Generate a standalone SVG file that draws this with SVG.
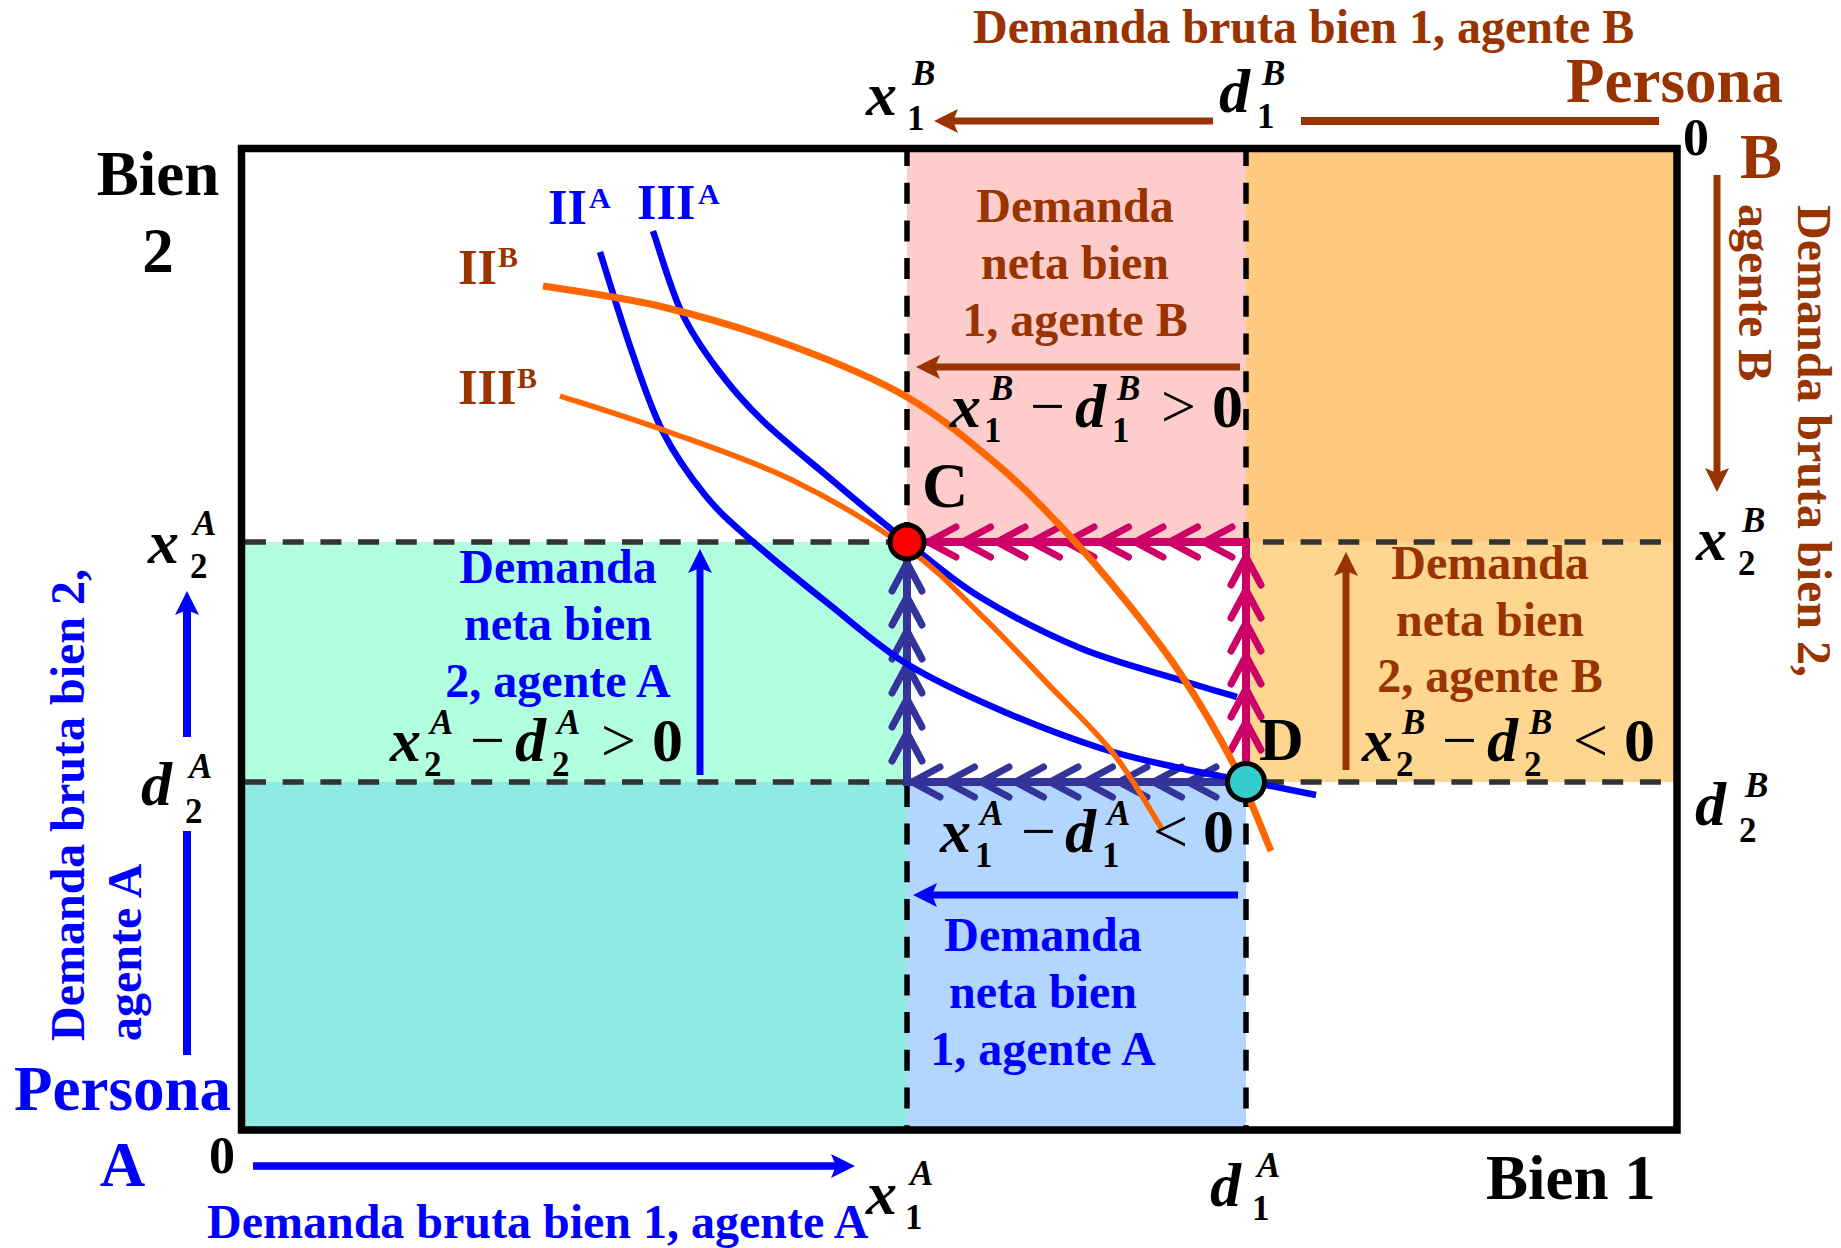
<svg xmlns="http://www.w3.org/2000/svg" xmlns:xlink="http://www.w3.org/1999/xlink" width="1841" height="1248" viewBox="0 0 1841 1248">
<defs>
<style>
text{font-family:"Liberation Serif","Times New Roman",serif;font-weight:bold}
.br{fill:#993300}
.bl{fill:#0000FF}
.k{fill:#000}
.big{font-size:63px}
.lbl{font-size:48px}
.mid{text-anchor:middle}
.end{text-anchor:end}
.mi{font-size:62px;font-style:italic;fill:#000}
.si{font-size:35px;font-style:italic;fill:#000}
.sd{font-size:35px;fill:#000}
.op{font-size:62px;font-weight:normal;fill:#000}
.num{font-size:62px;fill:#000}
.cl{font-size:50px}
.cs{font-size:30px}
.vd{stroke:#000;stroke-width:5.5;stroke-dasharray:21 16.7;fill:none}
.hd{stroke:#333;stroke-width:5.5;stroke-dasharray:21 16.7;fill:none}
.cb{fill:none;stroke:#0000FF;stroke-width:6.5}
.co{fill:none;stroke:#FF6600}
.arb{stroke:#993300;fill:none}
.arl{stroke:#0000FF;fill:none}
.mg{stroke:#CC0066;stroke-width:8;fill:none}
.ig{stroke:#333399;stroke-width:8;fill:none}
.chm{stroke:#CC0066;stroke-width:7;stroke-linecap:round;stroke-linejoin:round;fill:none}
.chi{stroke:#333399;stroke-width:7;stroke-linecap:round;stroke-linejoin:round;fill:none}
</style>
<marker id="ahB" viewBox="0 0 24 24" markerWidth="24" markerHeight="24" refX="10" refY="12" orient="auto" markerUnits="userSpaceOnUse"><path d="M0,0 L24,12 L0,24 L5,12 Z" fill="#993300"/></marker>
<marker id="ahL" viewBox="0 0 24 24" markerWidth="24" markerHeight="24" refX="10" refY="12" orient="auto" markerUnits="userSpaceOnUse"><path d="M0,0 L24,12 L0,24 L5,12 Z" fill="#0000FF"/></marker>
<path id="chevL" d="M28,-15 L0,0 L28,15"/>
<path id="chevU" d="M-15,28 L0,0 L15,28"/>
</defs>
<rect x="0" y="0" width="1841" height="1248" fill="#fff"/>

<g id="regions">
<rect x="907" y="148" width="339" height="394" fill="#FFCCCC"/>
<rect x="1246" y="148" width="431" height="394" fill="#FFCA80"/>
<rect x="1246" y="542" width="431" height="240" fill="#FFD68F"/>
<rect x="241" y="542" width="666" height="240" fill="#B2FFE0"/>
<rect x="241" y="782" width="666" height="348" fill="#8EEAE3"/>
<rect x="907" y="782" width="339" height="348" fill="#B2D6FF"/>
</g>

<g id="grid">
<line class="hd" x1="245" y1="542" x2="1677" y2="542"/>
<line class="hd" x1="245" y1="782" x2="1677" y2="782"/>
<line class="vd" x1="907" y1="145" x2="907" y2="1130"/>
<line class="vd" x1="1246" y1="145" x2="1246" y2="1130"/>
</g>

<g id="connectors">
<line class="arb" stroke-width="7" x1="1213" y1="121" x2="948" y2="121" marker-end="url(#ahB)"/>
<line class="arb" stroke-width="8" x1="1301" y1="121" x2="1659" y2="121"/>
<line class="arb" stroke-width="7" x1="1717" y1="175" x2="1717" y2="478" marker-end="url(#ahB)"/>
<line class="arb" stroke-width="7" x1="1240" y1="367" x2="930" y2="367" marker-end="url(#ahB)"/>
<line class="arb" stroke-width="7" x1="1346" y1="770" x2="1346" y2="566" marker-end="url(#ahB)"/>
<line class="arl" stroke-width="7" x1="700" y1="775" x2="700" y2="563" marker-end="url(#ahL)"/>
<line class="arl" stroke-width="8" x1="187" y1="737" x2="187" y2="605" marker-end="url(#ahL)"/>
<line class="arl" stroke-width="8" x1="187" y1="831" x2="187" y2="1055"/>
<line class="arl" stroke-width="7.5" x1="253" y1="1166" x2="841" y2="1166" marker-end="url(#ahL)"/>
<line class="arl" stroke-width="7" x1="1238" y1="895" x2="927" y2="895" marker-end="url(#ahL)"/>

<path class="ig" d="M1228,782 H907 V555"/>
<path class="mg" d="M907,542 H1246 V765"/>
<g class="chm">
<use xlink:href="#chevL" x="928" y="542"/>
<use xlink:href="#chevL" x="962.5" y="542"/>
<use xlink:href="#chevL" x="997" y="542"/>
<use xlink:href="#chevL" x="1031.5" y="542"/>
<use xlink:href="#chevL" x="1066" y="542"/>
<use xlink:href="#chevL" x="1100.5" y="542"/>
<use xlink:href="#chevL" x="1135" y="542"/>
<use xlink:href="#chevL" x="1169.5" y="542"/>
<use xlink:href="#chevL" x="1204" y="542"/>
<use xlink:href="#chevU" x="1246" y="557"/>
<use xlink:href="#chevU" x="1246" y="590"/>
<use xlink:href="#chevU" x="1246" y="623"/>
<use xlink:href="#chevU" x="1246" y="656"/>
<use xlink:href="#chevU" x="1246" y="689"/>
<use xlink:href="#chevU" x="1246" y="722"/>
</g>
<g class="chi">
<use xlink:href="#chevL" x="912" y="782"/>
<use xlink:href="#chevL" x="946.5" y="782"/>
<use xlink:href="#chevL" x="981" y="782"/>
<use xlink:href="#chevL" x="1015.5" y="782"/>
<use xlink:href="#chevL" x="1050" y="782"/>
<use xlink:href="#chevL" x="1084.5" y="782"/>
<use xlink:href="#chevL" x="1119" y="782"/>
<use xlink:href="#chevL" x="1153.5" y="782"/>
<use xlink:href="#chevL" x="1188" y="782"/>
<use xlink:href="#chevU" x="907" y="563"/>
<use xlink:href="#chevU" x="907" y="597"/>
<use xlink:href="#chevU" x="907" y="631"/>
<use xlink:href="#chevU" x="907" y="665"/>
<use xlink:href="#chevU" x="907" y="699"/>
<use xlink:href="#chevU" x="907" y="733"/>
</g>
</g>

<g id="curves">
<path id="curve-IIA" class="cb" d="M600,252 C605.3,268.7 621.5,322 632,352 C642.5,382 650.8,408.2 663,432 C675.2,455.8 690.2,476.8 705,495 C719.8,513.2 731.2,522.7 752,541 C772.8,559.3 804.2,584.5 830,605 C855.8,625.5 878.7,646.5 907,664 C935.3,681.5 967.8,696 1000,710 C1032.2,724 1070,738.3 1100,748 C1130,757.7 1155.7,762.5 1180,768 C1204.3,773.5 1223.3,776.5 1246,781 C1268.7,785.5 1304.3,792.7 1316,795"/>
<path id="curve-IIIA" class="cb" d="M653,231 C657.7,244.3 670.2,287.8 681,311 C691.8,334.2 704.3,351.7 718,370 C731.7,388.3 744,402.7 763,421 C782,439.3 808,459.8 832,480 C856,500.2 882.3,522.5 907,542 C931.7,561.5 951.2,579.3 980,597 C1008.8,614.7 1046.7,634.2 1080,648 C1113.3,661.8 1153.8,671.8 1180,680 C1206.2,688.2 1227.5,694.2 1237,697"/>
<path id="curve-IIB" class="co" stroke-width="7" d="M543,286 C563,289.5 621.5,297 663,307 C704.5,317 751.3,331 792,346 C832.7,361 872.3,376.8 907,397 C941.7,417.2 973.3,444.3 1000,467 C1026.7,489.7 1046.2,510.8 1067,533 C1087.8,555.2 1106.2,576.7 1125,600 C1143.8,623.3 1162,645.8 1180,673 C1198,700.2 1217.8,733.3 1233,763 C1248.2,792.7 1264.7,836.3 1271,851"/>
<path id="curve-IIIB" class="co" stroke-width="5.5" d="M560,396 C578.2,402 630.3,418 669,432 C707.7,446 752.3,460.7 792,480 C831.7,499.3 875.7,525.7 907,548 C938.3,570.3 956.7,591.5 980,614 C1003.3,636.5 1024.8,659.8 1047,683 C1069.2,706.2 1093.8,728.7 1113,753 C1132.2,777.3 1153.8,816.3 1162,829"/>
</g>

<g id="frame">
<rect x="241.5" y="148.5" width="1435.5" height="981.5" fill="none" stroke="#000" stroke-width="7.5"/>
</g>

<g id="point-C">
<circle cx="907" cy="542" r="17" fill="#FF0000" stroke="#000" stroke-width="5"/>
<text class="k" x="922" y="507" font-size="64">C</text>
</g>
<g id="point-D">
<circle cx="1246" cy="782" r="18.5" fill="#33CCCC" stroke="#000" stroke-width="5"/>
<text class="k" x="1259" y="760" font-size="62">D</text>
</g>

<g id="curve-labels">
<text class="bl cl" x="548" y="224">II</text><text class="bl cs" x="589" y="208">A</text>
<text class="bl cl" x="637" y="219">III</text><text class="bl cs" x="698" y="204">A</text>
<text class="br cl" x="458" y="284">II</text><text class="br cs" x="498" y="267">B</text>
<text class="br cl" x="458" y="404">III</text><text class="br cs" x="517" y="388">B</text>
</g>

<g id="person-B">
<text class="br lbl" x="973" y="43">Demanda bruta bien 1, agente B</text>
<text class="br big end" x="1783" y="102">Persona</text>
<text class="br big end" x="1782" y="178">B</text>
<text class="k" x="1683" y="155" font-size="52">0</text>
<text class="br lbl" transform="translate(1798,205) rotate(90)">Demanda bruta bien 2,</text>
<text class="br lbl" transform="translate(1739,204) rotate(90)">agente B</text>
</g>

<g id="person-A">
<text class="bl big mid" x="122.5" y="1110">Persona</text>
<text class="bl big mid" x="122.5" y="1186">A</text>
<text class="k" x="209" y="1173" font-size="52">0</text>
<text class="bl lbl" x="207" y="1238">Demanda bruta bien 1, agente A</text>
<text class="bl lbl" transform="translate(84,1041) rotate(-90)">Demanda bruta bien 2,</text>
<text class="bl lbl" transform="translate(141,1041) rotate(-90)">agente A</text>
</g>

<g id="axes">
<text class="k big mid" x="158" y="195">Bien</text>
<text class="k big mid" x="158" y="272">2</text>
<text class="k big" x="1486" y="1199">Bien 1</text>
<text class="mi" x="866" y="115">x</text><text class="si" x="912" y="85">B</text><text class="sd" x="907" y="130">1</text>
<text class="mi" x="1219" y="112">d</text><text class="si" x="1262" y="85">B</text><text class="sd" x="1257" y="128">1</text>
<text class="mi" x="148" y="563">x</text><text class="si" x="193" y="535">A</text><text class="sd" x="190" y="578">2</text>
<text class="mi" x="141" y="805">d</text><text class="si" x="189" y="778">A</text><text class="sd" x="185" y="823">2</text>
<text class="mi" x="1696" y="560">x</text><text class="si" x="1742" y="532">B</text><text class="sd" x="1738" y="575">2</text>
<text class="mi" x="1695" y="825">d</text><text class="si" x="1745" y="797">B</text><text class="sd" x="1739" y="842">2</text>
<text class="mi" x="866" y="1214">x</text><text class="si" x="910" y="1185">A</text><text class="sd" x="905" y="1229">1</text>
<text class="mi" x="1210" y="1206">d</text><text class="si" x="1257" y="1177">A</text><text class="sd" x="1252" y="1220">1</text>
</g>

<g id="net-B1">
<text class="br lbl mid" x="1075" y="222">Demanda</text>
<text class="br lbl mid" x="1075" y="279">neta bien</text>
<text class="br lbl mid" x="1075" y="336">1, agente B</text>
<text class="mi" x="950" y="427">x</text><text class="si" x="990" y="400">B</text><text class="sd" x="984" y="442">1</text>
<text class="op" x="1030" y="427">−</text>
<text class="mi" x="1075" y="427">d</text><text class="si" x="1117" y="400">B</text><text class="sd" x="1112" y="442">1</text>
<text class="op" x="1161" y="427">&gt;</text>
<text class="num" x="1212" y="427">0</text>
</g>

<g id="net-A2">
<text class="bl lbl mid" x="558" y="583">Demanda</text>
<text class="bl lbl mid" x="558" y="640">neta bien</text>
<text class="bl lbl mid" x="558" y="697">2, agente A</text>
<text class="mi" x="390" y="761">x</text><text class="si" x="430" y="734">A</text><text class="sd" x="424" y="776">2</text>
<text class="op" x="470" y="761">−</text>
<text class="mi" x="515" y="761">d</text><text class="si" x="557" y="734">A</text><text class="sd" x="552" y="776">2</text>
<text class="op" x="601" y="761">&gt;</text>
<text class="num" x="652" y="761">0</text>
</g>

<g id="net-B2">
<text class="br lbl mid" x="1490" y="579">Demanda</text>
<text class="br lbl mid" x="1490" y="636">neta bien</text>
<text class="br lbl mid" x="1490" y="692">2, agente B</text>
<text class="mi" x="1362" y="761">x</text><text class="si" x="1402" y="734">B</text><text class="sd" x="1396" y="776">2</text>
<text class="op" x="1442" y="761">−</text>
<text class="mi" x="1487" y="761">d</text><text class="si" x="1529" y="734">B</text><text class="sd" x="1524" y="776">2</text>
<text class="op" x="1573" y="761">&lt;</text>
<text class="num" x="1624" y="761">0</text>
</g>

<g id="net-A1">
<text class="mi" x="940" y="852">x</text><text class="si" x="980" y="825">A</text><text class="sd" x="975" y="867">1</text>
<text class="op" x="1021" y="852">−</text>
<text class="mi" x="1065" y="852">d</text><text class="si" x="1107" y="825">A</text><text class="sd" x="1102" y="867">1</text>
<text class="op" x="1153" y="852">&lt;</text>
<text class="num" x="1203" y="852">0</text>
<text class="bl lbl mid" x="1043" y="951">Demanda</text>
<text class="bl lbl mid" x="1043" y="1008">neta bien</text>
<text class="bl lbl mid" x="1043" y="1065">1, agente A</text>
</g>
</svg>
